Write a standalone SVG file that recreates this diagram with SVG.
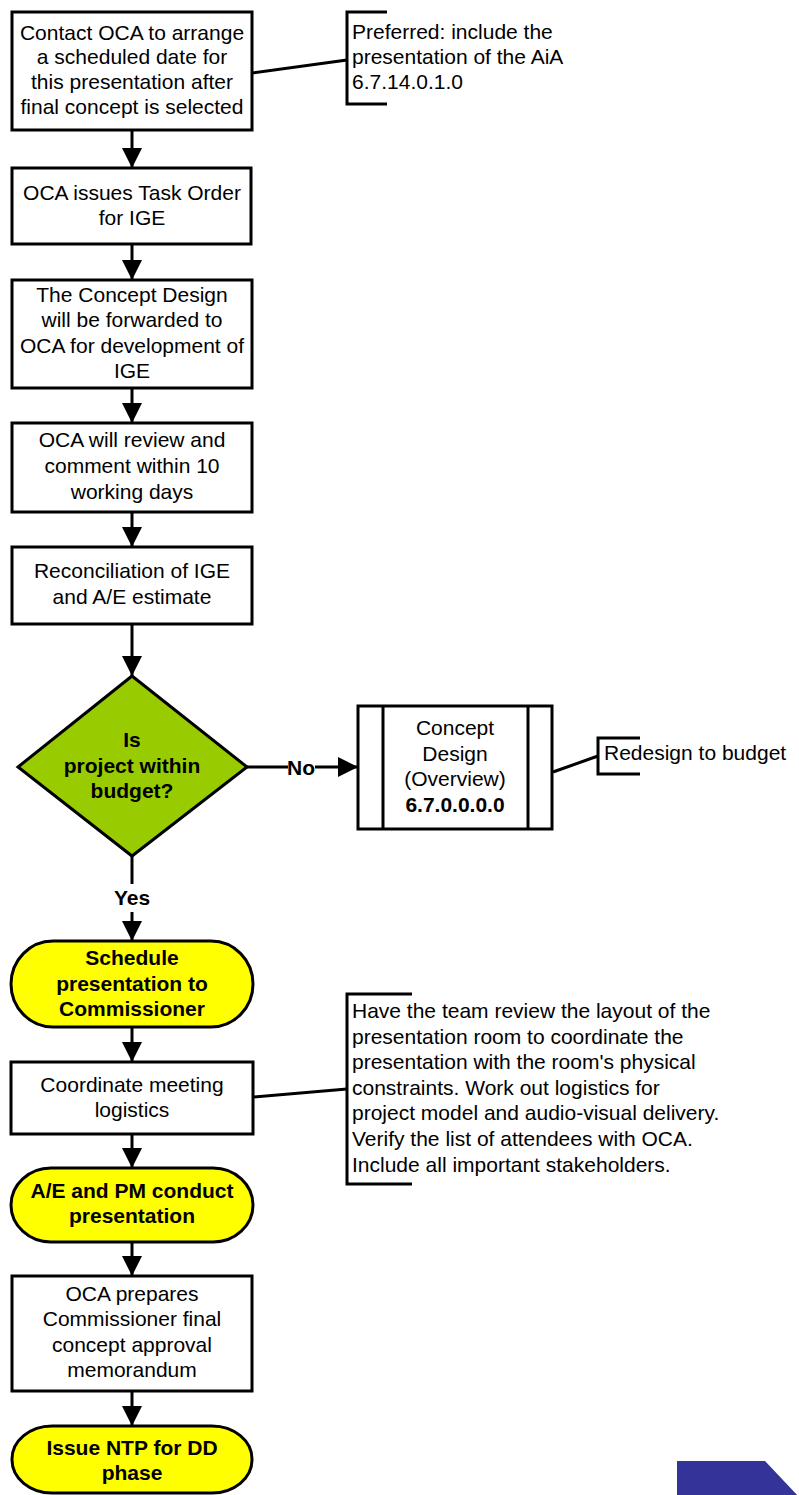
<svg xmlns="http://www.w3.org/2000/svg" width="799" height="1495" viewBox="0 0 799 1495">
<style>
.box{fill:#fff;stroke:#000;stroke-width:3}
.term{fill:#ffff00;stroke:#000;stroke-width:3}
.dec{fill:#99cc00;stroke:#000;stroke-width:3}
.ln{fill:none;stroke:#000;stroke-width:3}
text{font-family:"Liberation Sans",Arial,sans-serif;font-size:21px;fill:#000}
.c{text-anchor:middle}
.b{font-weight:bold}
</style>
<defs>
<marker id="ah" markerUnits="userSpaceOnUse" markerWidth="20" markerHeight="20" refX="20" refY="10" orient="auto">
<path d="M0,0 L20,10 L0,20 z" fill="#000"/>
</marker>
</defs>
<g id="connectors">
<line class="ln" x1="132" y1="130" x2="132" y2="168" marker-end="url(#ah)"/>
<line class="ln" x1="132" y1="244" x2="132" y2="280" marker-end="url(#ah)"/>
<line class="ln" x1="132" y1="388" x2="132" y2="423" marker-end="url(#ah)"/>
<line class="ln" x1="132" y1="512" x2="132" y2="547" marker-end="url(#ah)"/>
<line class="ln" x1="132" y1="624" x2="132" y2="676" marker-end="url(#ah)"/>
<line class="ln" x1="247" y1="767" x2="288" y2="767"/>
<line class="ln" x1="315" y1="767" x2="358" y2="767" marker-end="url(#ah)"/>
<text class="b c" x="301" y="775">No</text>
<line class="ln" x1="132" y1="856" x2="132" y2="884"/>
<text class="b c" x="132" y="905">Yes</text>
<line class="ln" x1="132" y1="912" x2="132" y2="941" marker-end="url(#ah)"/>
<line class="ln" x1="132" y1="1027" x2="132" y2="1062" marker-end="url(#ah)"/>
<line class="ln" x1="132" y1="1134" x2="132" y2="1168" marker-end="url(#ah)"/>
<line class="ln" x1="132" y1="1242" x2="132" y2="1276" marker-end="url(#ah)"/>
<line class="ln" x1="132" y1="1391" x2="132" y2="1426" marker-end="url(#ah)"/>
<line class="ln" x1="252" y1="73" x2="347" y2="60"/>
<line class="ln" x1="553" y1="772" x2="598" y2="756"/>
<line class="ln" x1="253" y1="1097" x2="347" y2="1089"/>
</g>
<g id="n1">
<rect class="box" x="12" y="12" width="240" height="118"/>
<text class="c" x="132" y="40">Contact OCA to arrange</text>
<text class="c" x="132" y="64">a scheduled date for</text>
<text class="c" x="132" y="89">this presentation after</text>
<text class="c" x="132" y="114">final concept is selected</text>
</g>
<g id="a1">
<path class="ln" d="M387,12 H347 V104 H387"/>
<text x="352" y="39">Preferred: include the</text>
<text x="352" y="64">presentation of the AiA</text>
<text x="352" y="89">6.7.14.0.1.0</text>
</g>
<g id="n2">
<rect class="box" x="12" y="168" width="239" height="76"/>
<text class="c" x="132" y="200">OCA issues Task Order</text>
<text class="c" x="132" y="225">for IGE</text>
</g>
<g id="n3">
<rect class="box" x="12" y="280" width="240" height="108"/>
<text class="c" x="132" y="302">The Concept Design</text>
<text class="c" x="132" y="327">will be forwarded to</text>
<text class="c" x="132" y="353">OCA for development of</text>
<text class="c" x="132" y="378">IGE</text>
</g>
<g id="n4">
<rect class="box" x="12" y="423" width="240" height="89"/>
<text class="c" x="132" y="447">OCA will review and</text>
<text class="c" x="132" y="473">comment within 10</text>
<text class="c" x="132" y="499">working days</text>
</g>
<g id="n5">
<rect class="box" x="12" y="547" width="240" height="77"/>
<text class="c" x="132" y="578">Reconciliation of IGE</text>
<text class="c" x="132" y="604">and A/E estimate</text>
</g>
<g id="d1">
<polygon class="dec" points="132,676 247,767 132,856 18,767"/>
<text class="c b" x="132" y="747">Is</text>
<text class="c b" x="132" y="773">project within</text>
<text class="c b" x="132" y="798">budget?</text>
</g>
<g id="p1">
<rect class="box" x="358" y="706" width="194" height="123"/>
<line class="ln" x1="383" y1="706" x2="383" y2="829"/>
<line class="ln" x1="528" y1="706" x2="528" y2="829"/>
<text class="c" x="455" y="735">Concept</text>
<text class="c" x="455" y="761">Design</text>
<text class="c" x="455" y="786">(Overview)</text>
<text class="c b" x="455" y="812">6.7.0.0.0.0</text>
</g>
<g id="a2">
<path class="ln" d="M640,738 H598 V774 H640"/>
<text x="604" y="760">Redesign to budget</text>
</g>
<g id="t1">
<rect class="term" x="11" y="941" width="242" height="86" rx="42" ry="43"/>
<text class="c b" x="132" y="965">Schedule</text>
<text class="c b" x="132" y="991">presentation to</text>
<text class="c b" x="132" y="1016">Commissioner</text>
</g>
<g id="n6">
<rect class="box" x="11" y="1062" width="242" height="72"/>
<text class="c" x="132" y="1092">Coordinate meeting</text>
<text class="c" x="132" y="1117">logistics</text>
</g>
<g id="a3">
<path class="ln" d="M412,994 H347 V1184 H412"/>
<text x="352" y="1018">Have the team review the layout of the</text>
<text x="352" y="1044">presentation room to coordinate the</text>
<text x="352" y="1069">presentation with the room's physical</text>
<text x="352" y="1095">constraints. Work out logistics for</text>
<text x="352" y="1120">project model and audio-visual delivery.</text>
<text x="352" y="1146">Verify the list of attendees with OCA.</text>
<text x="352" y="1172">Include all important stakeholders.</text>
</g>
<g id="t2">
<rect class="term" x="11" y="1168" width="242" height="74" rx="40" ry="37"/>
<text class="c b" x="132" y="1198">A/E and PM conduct</text>
<text class="c b" x="132" y="1223">presentation</text>
</g>
<g id="n7">
<rect class="box" x="12" y="1276" width="240" height="115"/>
<text class="c" x="132" y="1301">OCA prepares</text>
<text class="c" x="132" y="1326">Commissioner final</text>
<text class="c" x="132" y="1352">concept approval</text>
<text class="c" x="132" y="1377">memorandum</text>
</g>
<g id="t3">
<rect class="term" x="12" y="1426" width="240" height="67" rx="40" ry="33"/>
<text class="c b" x="132" y="1455">Issue NTP for DD</text>
<text class="c b" x="132" y="1480">phase</text>
</g>
<g id="deco">
<polygon points="677,1461 765,1461 799,1497 677,1497" fill="#333399"/>
</g>
</svg>
